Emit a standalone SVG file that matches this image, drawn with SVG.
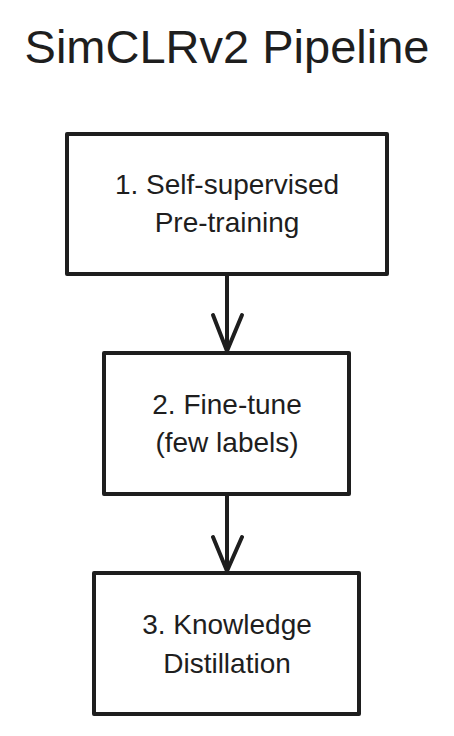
<svg xmlns="http://www.w3.org/2000/svg" width="454" height="736" viewBox="0 0 454 736">
<style>
.box{fill:#ffffff;stroke:#1e1e1e;stroke-width:4;stroke-linejoin:round}
.lbl{font-family:"Liberation Sans",Arial,sans-serif;font-size:28px;fill:#1e1e1e;text-anchor:middle}
.title{font-family:"Liberation Sans",Arial,sans-serif;font-size:47px;fill:#1e1e1e;text-anchor:middle}
.edge{fill:none;stroke:#1e1e1e;stroke-width:4;stroke-linecap:round;stroke-linejoin:round}
</style>
<rect width="454" height="736" fill="#ffffff"/>
<text class="title" x="227" y="63">SimCLRv2 Pipeline</text>
<g id="connectors">
<path class="edge" d="M227 275 L227 351 M213 315 L227 351 L242 315"/>
<path class="edge" d="M227 496 L227 571 M213 537 L227 571 L242 537"/>
</g>
<g id="node1">
<rect class="box" x="67" y="134" width="320" height="140"/>
<text class="lbl" x="227" y="194">1. Self-supervised</text>
<text class="lbl" x="227" y="232">Pre-training</text>
</g>
<g id="node2">
<rect class="box" x="104" y="353" width="245" height="141"/>
<text class="lbl" x="227" y="414">2. Fine-tune</text>
<text class="lbl" x="227" y="452">(few labels)</text>
</g>
<g id="node3">
<rect class="box" x="94" y="573" width="265" height="141"/>
<text class="lbl" x="227" y="634">3. Knowledge</text>
<text class="lbl" x="227" y="673">Distillation</text>
</g>
</svg>
